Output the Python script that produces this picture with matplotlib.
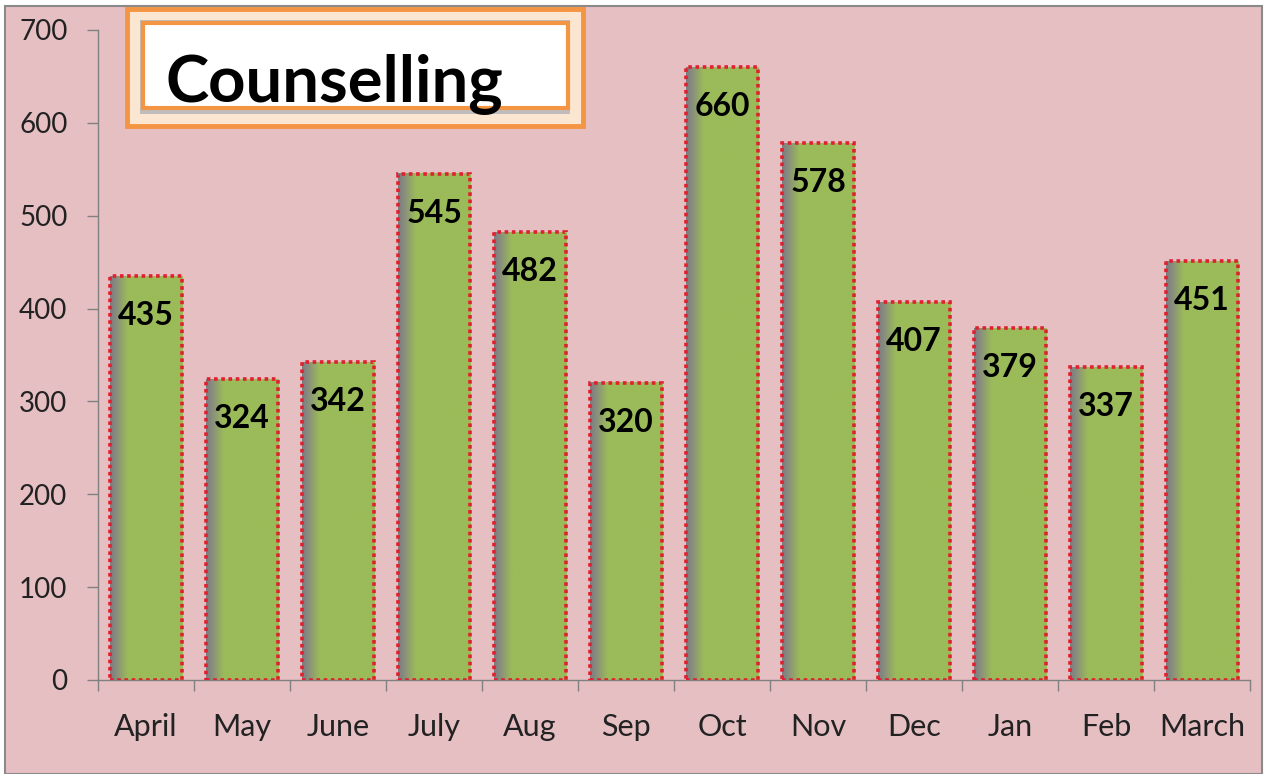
import numpy as np
import matplotlib.pyplot as plt
from matplotlib.patches import Rectangle
from matplotlib.colors import LinearSegmentedColormap

months = ['April', 'May', 'June', 'July', 'Aug', 'Sep', 'Oct', 'Nov', 'Dec',
          'Jan', 'Feb', 'March']
sessions = [435, 324, 342, 545, 482, 320, 660, 578, 407, 379, 337, 451]
yticks = [0, 100, 200, 300, 400, 500, 600, 700]
title = 'Counselling'

plt.rcParams['font.family'] = ['Lato', 'DejaVu Sans']

W, H = 1273, 774
fig = plt.figure(figsize=(W / 100, H / 100), dpi=100, facecolor='white')

# pink slide-like background with gray frame
fig.patches.append(Rectangle((5 / W, 0), 1257 / W, 1 - 6 / H, transform=fig.transFigure,
                             facecolor='#e6bfc3', edgecolor='#8a8a8a', lw=1.5, zorder=-5))

ax = fig.add_axes([98 / W, 1 - 680 / H, 1152 / W, 650 / H])
ax.set_facecolor('none')

x = np.arange(len(months))
bars = ax.bar(x, sessions, width=0.76, color='#9bbb59', edgecolor='none', zorder=2)

# gray-to-green shading on the left side of each bar
cmap = LinearSegmentedColormap.from_list('shade', [(0, '#7d7d80'), (0.07, '#878a80'),
                                                   (0.24, '#9bbb59'), (1, '#9bbb59')])
grad = np.linspace(0, 1, 200).reshape(1, -1)
for b in bars:
    ax.imshow(grad, cmap=cmap, aspect='auto', zorder=2.5, interpolation='bilinear',
              extent=(b.get_x(), b.get_x() + b.get_width(), 0, b.get_height()))

# dotted red outline
ax.bar(x, sessions, width=0.76, fill=False, edgecolor='#e0202e',
       linestyle=(0, (1, 1)), linewidth=2.6, zorder=3)

for b, v in zip(bars, sessions):
    ax.annotate(str(v), (b.get_x() + b.get_width() / 2, v), xytext=(0, -18),
                textcoords='offset points', ha='center', va='top',
                fontsize=23, fontweight='bold', color='black', zorder=4)

ax.set_xlim(-0.5, len(months) - 0.5)
ax.set_ylim(0, 700)
ax.set_yticks(yticks)
ax.set_xticks(x)
ax.set_xticklabels(months)
ax.set_xticks(np.arange(len(months) + 1) - 0.5, minor=True)
ax.tick_params(axis='x', which='major', length=0, pad=24, labelsize=22, colors='#222222')
ax.tick_params(axis='x', which='minor', length=8, color='#808080', width=1)
ax.tick_params(axis='y', length=8, color='#808080', width=1, pad=14, labelsize=20,
               labelcolor='#222222')
for s in ['top', 'right']:
    ax.spines[s].set_visible(False)
for s in ['left', 'bottom']:
    ax.spines[s].set_color('#808080')
    ax.spines[s].set_linewidth(1)

# title box: orange bevel frame with white inside
fig.patches.append(Rectangle((127 / W, 1 - 126 / H), 456 / W, 117 / H, transform=fig.transFigure,
                             facecolor='#fbe6d2', edgecolor='#f39542', lw=3.5, zorder=5))
fig.patches.append(Rectangle((140 / W, 1 - 114 / H), 430 / W, 94 / H, transform=fig.transFigure,
                             facecolor='#c0bcbc', edgecolor='none', zorder=5))
fig.patches.append(Rectangle((143 / W, 1 - 108 / H), 425 / W, 85 / H, transform=fig.transFigure,
                             facecolor='white', edgecolor='#f39542', lw=3, zorder=5))
fig.text(166 / W, 1 - 102 / H, title, fontsize=47, fontweight='bold', color='black',
         ha='left', va='baseline', zorder=6)

fig.savefig('out.png', dpi=100, facecolor='white')
